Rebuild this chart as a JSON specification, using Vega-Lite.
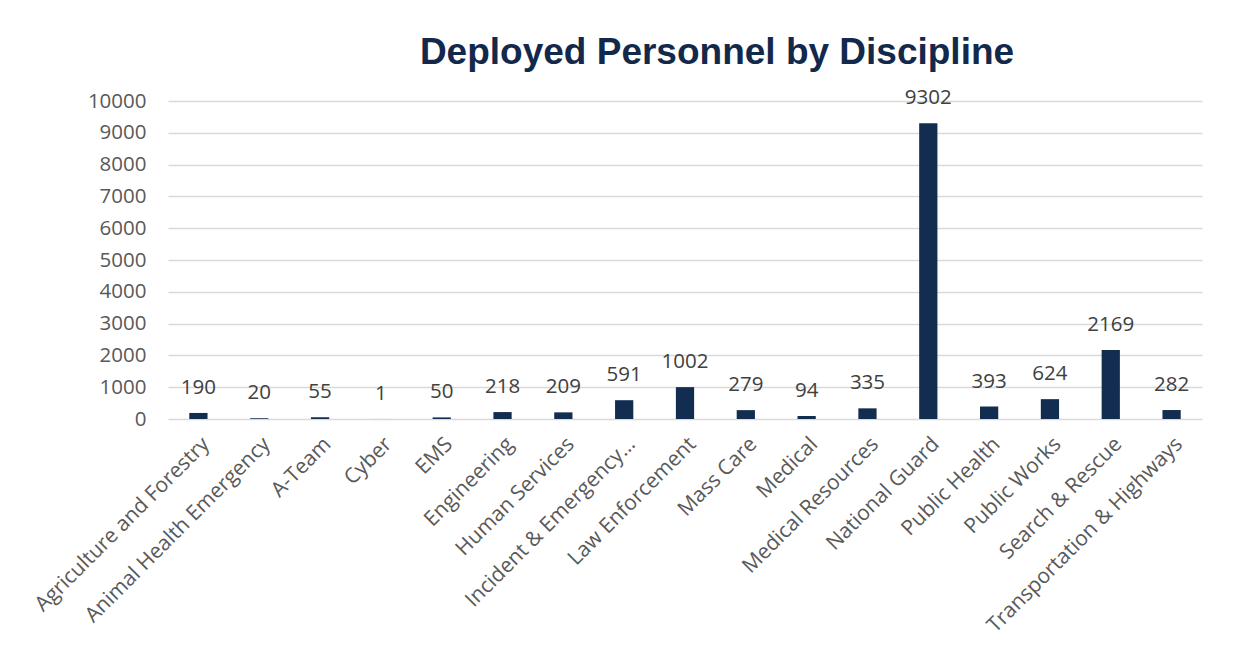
{
  "$schema": "https://vega.github.io/schema/vega-lite/v6.json",
  "autosize": "none",
  "width": 1034,
  "height": 318,
  "padding": {"left": 168, "top": 101, "right": 31, "bottom": 239},
  "background": "white",
  "title": {
    "text": "Deployed Personnel by Discipline",
    "font": "Liberation Sans",
    "fontSize": 37,
    "fontWeight": "bold",
    "color": "#13294B",
    "anchor": "middle",
    "dx": 32,
    "offset": 16
  },
  "data": {
    "values": [
      {"discipline": "Agriculture and Forestry", "personnel": 190},
      {"discipline": "Animal Health Emergency", "personnel": 20},
      {"discipline": "A-Team", "personnel": 55},
      {"discipline": "Cyber", "personnel": 1},
      {"discipline": "EMS", "personnel": 50},
      {"discipline": "Engineering", "personnel": 218},
      {"discipline": "Human Services", "personnel": 209},
      {"discipline": "Incident & Emergency…", "personnel": 591},
      {"discipline": "Law Enforcement", "personnel": 1002},
      {"discipline": "Mass Care", "personnel": 279},
      {"discipline": "Medical", "personnel": 94},
      {"discipline": "Medical Resources", "personnel": 335},
      {"discipline": "National Guard", "personnel": 9302},
      {"discipline": "Public Health", "personnel": 393},
      {"discipline": "Public Works", "personnel": 624},
      {"discipline": "Search & Rescue", "personnel": 2169},
      {"discipline": "Transportation & Highways", "personnel": 282}
    ]
  },
  "config": {
    "view": {"stroke": null},
    "font": "Open Sans"
  },
  "encoding": {
    "x": {
      "field": "discipline",
      "type": "nominal",
      "sort": null,
      "scale": {"paddingInner": 0.7, "paddingOuter": 0.35},
      "axis": {
        "title": null,
        "labelAngle": -45,
        "labelFont": "Open Sans",
        "labelFontSize": 21,
        "labelColor": "#595959",
        "labelPadding": 14,
        "ticks": false,
        "domain": false,
        "labelLimit": 400
      }
    },
    "y": {
      "field": "personnel",
      "type": "quantitative",
      "scale": {"domain": [0, 10000], "nice": false},
      "axis": {
        "title": null,
        "values": [0, 1000, 2000, 3000, 4000, 5000, 6000, 7000, 8000, 9000, 10000],
        "format": "d",
        "labelFont": "Open Sans",
        "labelFontSize": 20.5,
        "labelColor": "#595959",
        "labelPadding": 22,
        "ticks": false,
        "domain": false,
        "gridColor": "#D9D9D9",
        "gridWidth": 1.5
      }
    }
  },
  "layer": [
    {"mark": {"type": "bar", "color": "#132D50"}},
    {
      "mark": {
        "type": "text",
        "dy": -25,
        "baseline": "middle",
        "font": "Open Sans",
        "fontSize": 20.5,
        "color": "#404040"
      },
      "encoding": {"text": {"field": "personnel", "type": "quantitative", "format": "d"}}
    }
  ]
}
